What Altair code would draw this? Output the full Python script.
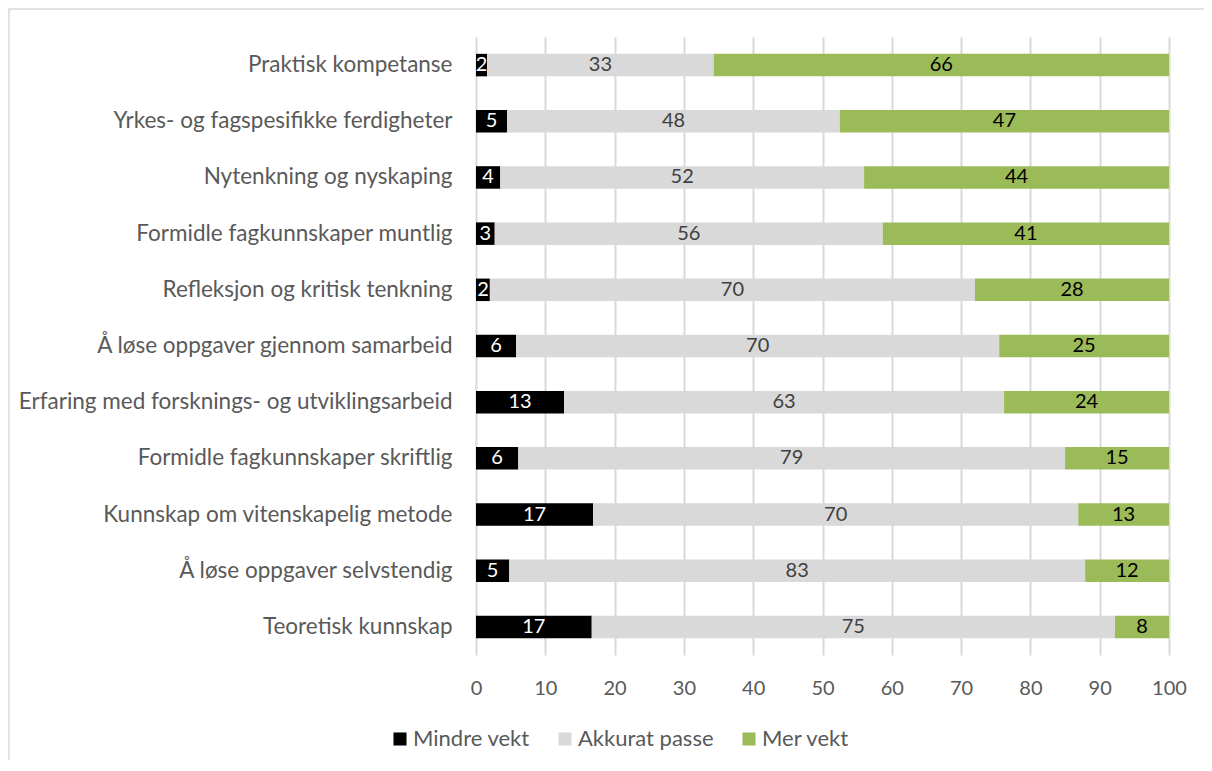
import altair as alt
import pandas as pd

categories = [
    "Praktisk kompetanse",
    "Yrkes- og fagspesifikke ferdigheter",
    "Nytenkning og nyskaping",
    "Formidle fagkunnskaper muntlig",
    "Refleksjon og kritisk tenkning",
    "Å løse oppgaver gjennom samarbeid",
    "Erfaring med forsknings- og utviklingsarbeid",
    "Formidle fagkunnskaper skriftlig",
    "Kunnskap om vitenskapelig metode",
    "Å løse oppgaver selvstendig",
    "Teoretisk kunnskap",
]
series = ["Mindre vekt", "Akkurat passe", "Mer vekt"]
mindre = [1.6, 4.5, 3.5, 2.7, 2.0, 5.8, 12.7, 6.1, 16.9, 4.8, 16.7]
akkurat = [32.7, 48.0, 52.5, 56.0, 70.0, 69.7, 63.5, 78.9, 70.0, 83.1, 75.5]
mer = [65.7, 47.5, 44.0, 41.3, 28.0, 24.5, 23.8, 15.0, 13.1, 12.1, 7.8]
mindre_lbl = [2, 5, 4, 3, 2, 6, 13, 6, 17, 5, 17]
akkurat_lbl = [33, 48, 52, 56, 70, 70, 63, 79, 70, 83, 75]
mer_lbl = [66, 47, 44, 41, 28, 25, 24, 15, 13, 12, 8]
colors = ["#000000", "#D9D9D9", "#9BBB59"]
text_colors = ["#FFFFFF", "#404040", "#000000"]
x_ticks = [0, 10, 20, 30, 40, 50, 60, 70, 80, 90, 100]

rows = []
for i, c in enumerate(categories):
    for j, (vals, lbls) in enumerate([(mindre, mindre_lbl), (akkurat, akkurat_lbl), (mer, mer_lbl)]):
        rows.append({"cat": c, "series": series[j], "ord": j, "value": vals[i],
                     "label": str(lbls[i]), "tc": text_colors[j]})
df = pd.DataFrame(rows)

FONT = "Lato"
W, H = 693, 618

base = alt.Chart(df)

bars = base.mark_bar(size=22.5).encode(
    y=alt.Y("cat:N", sort=categories, title=None,
            axis=alt.Axis(domain=False, ticks=False, labelPadding=24, labelFontSize=22.5,
                          labelColor="#595959", labelFont=FONT, labelLimit=600)),
    x=alt.X("value:Q", stack="zero", scale=alt.Scale(domain=[0, 100], nice=False), title=None,
            axis=alt.Axis(values=x_ticks, domain=False, ticks=False, labelPadding=23,
                          labelFontSize=20, labelColor="#595959", labelFont=FONT,
                          labelFlush=False, grid=True, gridColor="#D9D9D9", gridWidth=2)),
    color=alt.Color("series:N", sort=series, scale=alt.Scale(domain=series, range=colors),
                    legend=alt.Legend(title=None, orient="none", direction="horizontal",
                                      legendX=-87, legendY=691, symbolType="square",
                                      symbolSize=170, symbolStrokeWidth=0, labelFontSize=22,
                                      labelColor="#595959", labelFont=FONT, columnPadding=24,
                                      labelOffset=2)),
    order=alt.Order("ord:Q"),
)

texts = base.transform_stack(
    stack="value", groupby=["cat"], as_=["x0", "x1"], sort=[alt.SortField("ord")]
).transform_calculate(mid="(datum.x0 + datum.x1) / 2").mark_text(
    fontSize=20, font=FONT, baseline="middle", align="center"
).encode(
    y=alt.Y("cat:N", sort=categories),
    x=alt.X("mid:Q"),
    text="label:N",
    color=alt.Color("tc:N", scale=None),
)

border = alt.Chart(pd.DataFrame({"k": [0]})).mark_rect(
    fill=None, stroke="#D9D9D9", strokeWidth=1.5
).encode(x=alt.value(-467), x2=alt.value(900), y=alt.value(-28), y2=alt.value(900))

chart = alt.layer(bars, texts, border).properties(
    width=W, height=H, autosize=alt.AutoSizeParams(type="none"),
    padding={"left": 468, "top": 29, "right": 35, "bottom": 105},
).configure_view(stroke=None).configure_scale(bandPaddingInner=0.6)

chart.save("out.html", embed_options={"renderer": "svg", "actions": False})
